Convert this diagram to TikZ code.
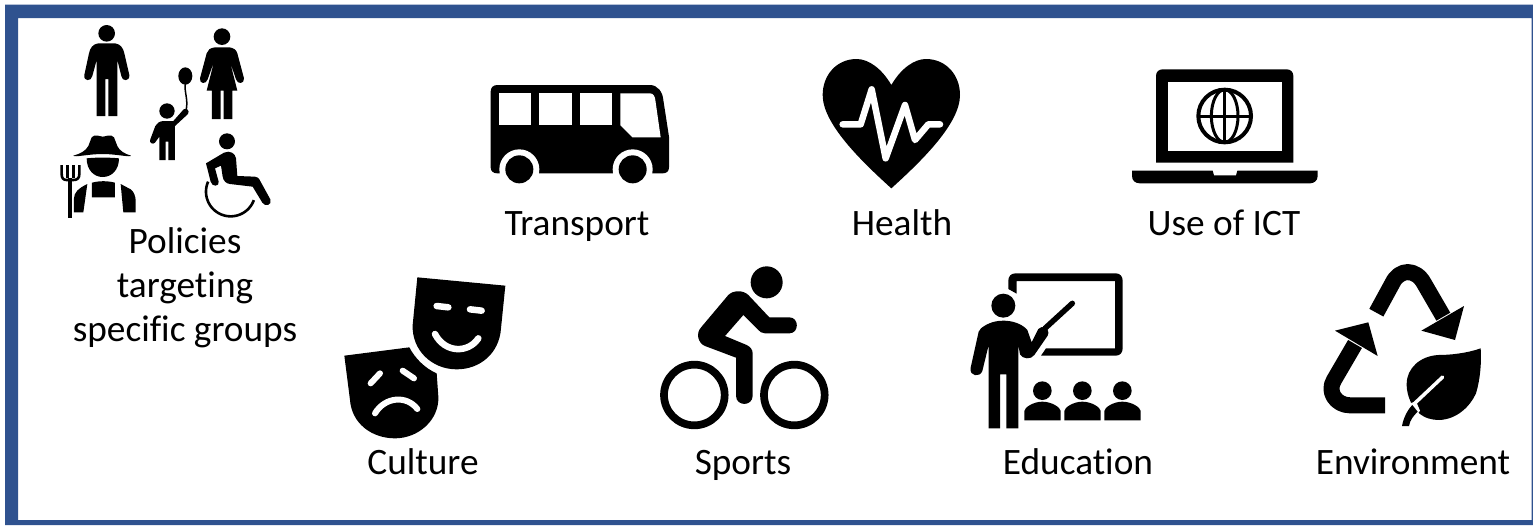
\documentclass[tikz,border=0pt]{standalone}
\usepackage{fontspec}
\setmainfont{Carlito}[RawFeature={-liga;-clig}]
\definecolor{frameblue}{HTML}{2F528F}
\tikzset{
  label text/.style={font=\fontsize{37.3}{40}\selectfont,anchor=base,text=black,inner sep=0pt},
  ink/.style={fill=black,draw=none},
  blank/.style={fill=white,draw=none},
  stroke/.style={draw=black,line cap=round,line join=round,fill=none},
  wipe/.style={draw=white,line cap=round,line join=round,fill=none}
}
\begin{document}
\begin{tikzpicture}[x=1pt,y=1pt,yscale=-1]
\useasboundingbox (0,0) rectangle (1533,525);
\fill[white] (0,0) rectangle (1533,525);
\fill[frameblue,even odd rule] (5,4.5) rectangle (1533,525) (18,18) rectangle (1531.5,520);

% people
\begin{scope}[scale=1/3]
 % man
 \fill[ink] (320,100) circle[radius=25];
 \fill[ink] (295,130) -- (345,130) .. controls (362,132) and (370,145) .. (373,160) -- (388,225) .. controls (390,245) and (366,245) .. (364,228) -- (352,180) -- (352,348) -- (325,348) -- (325,237) -- (316,237) -- (316,348) -- (290,348) -- (290,180) -- (277,228) .. controls (274,245) and (250,245) .. (253,225) -- (267,160) .. controls (270,145) and (278,132) .. (295,130) -- cycle;
 % woman
 \fill[ink] (666,110) circle[radius=25];
 \fill[ink] (645,142) -- (688,142) .. controls (702,144) and (709,150) .. (712,160) -- (732,235) .. controls (734,252) and (712,254) .. (708,238) -- (690,185) -- (712,272) -- (697,272) -- (697,357) -- (671,357) -- (671,272) -- (662,272) -- (662,357) -- (636,357) -- (636,272) -- (620,272) -- (642,185) -- (623,238) .. controls (619,254) and (597,252) .. (600,235) -- (620,160) .. controls (623,150) and (630,144) .. (645,142) -- cycle;
 % child
 \fill[ink] (501,333) circle[radius=23];
 \fill[ink] (556,228) ellipse[x radius=21,y radius=26];
 \draw[stroke,line width=1.5pt] (556,252) .. controls (552,275) and (566,300) .. (558,332);
 \fill[ink] (490,363) -- (520,363) -- (551,328) .. controls (560,322) and (570,332) .. (564,342) -- (525,378) -- (525,480) -- (505,480) -- (505,425) -- (497,425) -- (497,480) -- (478,480) -- (478,410) -- (465,428) .. controls (458,435) and (446,428) .. (451,418) -- (466,378) .. controls (470,370) and (478,364) .. (490,363) -- cycle;
 % farmer
 \fill[ink] (220,467) .. controls (240,462) and (258,452) .. (265,438) -- (275,412) .. controls (285,400) and (300,410) .. (308,410) .. controls (318,410) and (332,400) .. (342,412) -- (352,438) .. controls (358,452) and (375,462) .. (393,467) .. controls (393,473) and (350,462) .. (308,462) .. controls (265,462) and (222,473) .. (220,467) -- cycle;
 \fill[ink] (260,475) .. controls (290,472) and (325,472) .. (357,475) .. controls (357,510) and (335,531) .. (308,531) .. controls (282,531) and (260,510) .. (260,475) -- cycle;
 \fill[ink] (222,637) -- (222,595) .. controls (222,578) and (235,565) .. (262,552) -- (250,637) -- cycle;
 \fill[ink] (276,548) .. controls (300,542) and (320,542) .. (345,548) -- (345,592) -- (276,592) -- cycle;
 \fill[ink] (362,552) -- (392,568) .. controls (402,575) and (407,590) .. (407,602) -- (407,637) -- (370,637) -- cycle;
 \draw[stroke,line cap=butt,line width=4pt] (210,535) -- (210,655);
 \draw[stroke,line cap=butt,line width=2.6pt] (185,495) -- (185,522) .. controls (185,535) and (190,540) .. (200,540) -- (220,540) .. controls (232,540) and (238,535) .. (238,522) -- (238,495);
 \draw[stroke,line cap=butt,line width=2.6pt] (203,495) -- (203,535);
 \draw[stroke,line cap=butt,line width=2.6pt] (220,495) -- (220,535);
 % wheelchair
 \fill[ink] (681,424) circle[radius=24];
 \fill[ink] (618,490) -- (672,458) .. controls (690,450) and (706,460) .. (708,475) -- (712,528) -- (765,530) .. controls (772,531) and (776,534) .. (778,538) -- (811,598) .. controls (818,615) and (795,622) .. (787,608) -- (758,560) -- (690,552) .. controls (678,551) and (670,542) .. (668,530) -- (663,497) -- (645,505) -- (656,545) .. controls (659,560) and (636,562) .. (632,545) -- cycle;
 \draw[stroke,line cap=butt,line width=2.6pt] plot[domain=20:204,samples=50] ({692+74*cos(\x)},{575+74*sin(\x)});
\end{scope}

% bus
\begin{scope}[shift={(470,40)},scale=1/3]
 \fill[ink] (62,155) .. controls (62,142) and (70,135) .. (82,135) -- (540,135) .. controls (562,135) and (578,155) .. (580,180) -- (597,290) -- (597,382) .. controls (597,394) and (590,400) .. (578,400) -- (82,400) .. controls (70,400) and (62,394) .. (62,382) -- cycle;
 \foreach \wx in {148,488}{
  \fill[blank] (\wx,388) circle[radius=60];
  \fill[ink] (\wx,388) circle[radius=42];
 }
 \fill[blank] (87,160) rectangle (184,256);
 \fill[blank] (208,160) rectangle (305,256);
 \fill[blank] (330,160) rectangle (427,256);
 \fill[blank] (451,160) -- (540,160) .. controls (550,160) and (555,170) .. (556,180) -- (572,292) -- (487,292) -- (451,256) -- cycle;
 % heart
 \fill[ink] (1264,135) .. controls (1235,85) and (1195,57) .. (1160,57) .. controls (1100,57) and (1058,105) .. (1058,165) .. controls (1058,250) and (1170,360) .. (1264,445) .. controls (1358,360) and (1470,250) .. (1470,165) .. controls (1470,105) and (1428,57) .. (1368,57) .. controls (1333,57) and (1293,85) .. (1264,135) -- cycle;
 \draw[wipe,line width=6.5pt] (1118,253) -- (1172,253) -- (1205,148) -- (1247,355) -- (1305,195) -- (1335,300) -- (1375,253) -- (1410,253);
\end{scope}

% laptop
\begin{scope}[shift={(1120,50)},scale=1/3]
 \fill[ink] (108,338) -- (108,78) .. controls (108,66) and (116,58) .. (128,58) -- (500,58) .. controls (512,58) and (520,66) .. (520,78) -- (520,338) -- cycle;
 \fill[blank] (145,95) rectangle (485,302);
 \draw[stroke,line width=4pt] (314,198) circle[radius=79];
 \draw[stroke,line width=3pt] (314,198) ellipse[x radius=40,y radius=79];
 \draw[stroke,line cap=butt,line width=3pt] (314,119) -- (314,277);
 \draw[stroke,line cap=butt,line width=3pt] (235,198) -- (393,198);
 \fill[ink] (36,362) -- (278,362) -- (282,376) -- (348,376) -- (352,362) -- (593,362) -- (593,378) .. controls (593,392) and (582,400) .. (570,400) -- (60,400) .. controls (46,400) and (36,392) .. (36,378) -- cycle;
\end{scope}

% masks, bike
\begin{scope}[shift={(330,260)},scale=1/3]
 \fill[ink] (262,52) -- (526,77) -- (513,205) .. controls (508,280) and (450,328) .. (380,328) .. controls (305,328) and (245,270) .. (248,195) -- cycle;
 \draw[wipe,line width=6.5pt] (320,138) -- (355,142);
 \draw[wipe,line width=6.5pt] (420,148) -- (455,152);
 \draw[wipe,line width=6.5pt] (315,222) .. controls (345,280) and (415,280) .. (445,235);
 \fill[ink] (43,287) -- (238,262) .. controls (255,295) and (285,325) .. (320,340) -- (325,410) .. controls (328,480) and (265,535) .. (195,535) .. controls (125,535) and (65,490) .. (60,420) -- cycle;
 \draw[wipe,line width=6pt] (122,370) -- (150,340);
 \draw[wipe,line width=6pt] (218,332) -- (252,355);
 \draw[wipe,line width=6pt] (135,460) .. controls (165,410) and (230,405) .. (262,447);
 % bike
 \fill[ink] (1310,67) circle[radius=48];
 \draw[stroke,line width=7.7pt] (1093,405) circle[radius=91];
 \draw[stroke,line width=7.7pt] (1393,405) circle[radius=91];
 \fill[ink] (1195,105) .. controls (1210,90) and (1240,90) .. (1255,105) -- (1318,172) -- (1378,172) .. controls (1408,172) and (1408,220) .. (1378,220) -- (1305,220) .. controls (1295,220) and (1290,215) .. (1285,210) -- (1240,165) -- (1185,228) -- (1250,255) .. controls (1260,260) and (1268,268) .. (1268,280) -- (1268,407) .. controls (1268,440) and (1218,440) .. (1218,407) -- (1218,293) -- (1125,258) .. controls (1105,250) and (1095,220) .. (1115,200) -- cycle;
\end{scope}

% teacher
\begin{scope}[shift={(965,265)},scale=1/3]
 \fill[ink] (130,72) -- (130,47) .. controls (130,34) and (138,25) .. (152,25) -- (452,25) .. controls (465,25) and (473,34) .. (473,47) -- (473,250) .. controls (473,263) and (465,272) .. (452,272) -- (228,272) -- (243,250) -- (450,250) -- (450,48) -- (155,48) -- (155,86) -- cycle;
 \draw[stroke,line width=5.5pt] (240,190) -- (322,115);
 \fill[ink] (115,122) circle[radius=36];
 \fill[ink] (48,190) .. controls (70,172) and (95,167) .. (115,167) .. controls (140,167) and (170,175) .. (187,195) -- (200,232) -- (220,192) .. controls (230,178) and (258,190) .. (248,212) -- (208,270) .. controls (198,285) and (172,282) .. (165,268) -- (160,240) -- (160,490) -- (124,490) -- (124,328) -- (105,328) -- (105,490) -- (71,490) -- (71,240) -- (52,318) .. controls (45,338) and (12,335) .. (17,308) -- (41,200) .. controls (42,196) and (44,193) .. (48,190) -- cycle;
 \foreach \sx in {0,120,240}{
  \begin{scope}[shift={(\sx,0)}]
  \fill[ink] (232,377) circle[radius=28];
  \fill[ink] (178,466) -- (178,438) .. controls (178,428) and (205,410) .. (232,410) .. controls (260,410) and (287,428) .. (287,438) -- (287,466) -- cycle;
  \end{scope}
 }
\end{scope}

% recycling
\begin{scope}[shift={(1310,260)},scale=1/3]
 \draw[stroke,line cap=butt,line join=round,line width=16pt] (199,158) -- (247,70) .. controls (268,25) and (318,25) .. (342,70) -- (400,170);
 \fill[ink] (462,138) -- (435,240) -- (334,212) -- cycle;
 \draw[stroke,line cap=butt,line join=round,line width=16pt] (135,252) -- (72,360) .. controls (50,395) and (78,436) .. (120,436) -- (225,436);
 \fill[ink] (75,212) -- (175,187) -- (203,288) -- cycle;
 \fill[ink] (512,265) .. controls (470,280) and (420,285) .. (385,285) .. controls (330,288) and (290,325) .. (290,372) .. controls (290,395) and (295,410) .. (303,428) -- (325,458) .. controls (345,475) and (365,480) .. (388,480) .. controls (440,478) and (480,440) .. (498,400) .. controls (510,360) and (515,310) .. (512,265) -- cycle;
 \draw[wipe,line width=3.5pt] (398,351) -- (312,432);
 \fill[blank] (300,430) -- (318,424) -- (330,452) -- (322,462) -- cycle;
 \fill[ink] (307,435) -- (323,455) .. controls (310,468) and (300,480) .. (297,498) -- (276,498) .. controls (280,475) and (292,450) .. (307,435) -- cycle;
\end{scope}

% labels
\node[label text] (policies) at (185,253) {Policies};
\node[label text] (targeting) at (185,297) {targeting};
\node[label text] (groups) at (185,341) {specific groups};
\node[label text] (transport) at (577,235) {Transport};
\node[label text] (health) at (902,235) {Health};
\node[label text] (ict) at (1224,235) {Use of ICT};
\node[label text] (culture) at (423,474) {Culture};
\node[label text] (sports) at (743,474) {Sports};
\node[label text] (education) at (1078,474) {Education};
\node[label text] (environment) at (1413,474) {Environment};
\end{tikzpicture}
\end{document}
